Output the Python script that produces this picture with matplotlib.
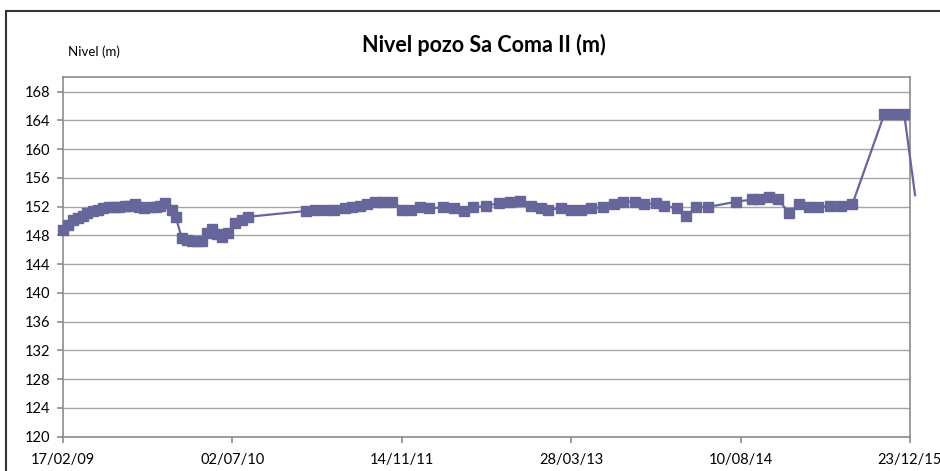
import matplotlib
matplotlib.use("Agg")
import matplotlib.pyplot as plt
from matplotlib.patches import Rectangle
import datetime as dt

# ---- data ----
fecha_inicio = dt.date(2009, 2, 17)
# days since 17/02/09 for each measurement
dias = [0, 17, 29, 46, 61, 73, 88, 103, 118, 138, 154, 167, 184, 197, 213, 226,
        241, 258, 275, 287, 302, 322, 334, 351, 366, 381, 395, 410, 425, 440, 454,
        469, 487, 507, 528, 548,
        717, 744, 777, 801, 833, 855, 878, 899, 922, 946, 971, 1000, 1028, 1053,
        1080, 1121, 1156, 1185, 1212, 1249, 1288, 1320, 1348, 1382, 1410, 1433,
        1471, 1500, 1529, 1560, 1593, 1627, 1653, 1688, 1716, 1751, 1773, 1812,
        1840, 1868, 1903, 1988, 2035, 2053, 2085, 2112, 2143, 2173, 2203, 2228,
        2264, 2297, 2330, 2424, 2453, 2483]
nivel = [148.8, 149.4, 150.1, 150.4, 150.7, 151.1, 151.4, 151.6, 151.8, 151.9, 151.9,
         152.0, 152.1, 152.1, 152.4, 152.0, 151.8, 151.9, 152.0, 152.1, 152.5, 151.5,
         150.5, 147.7, 147.4, 147.2, 147.2, 147.2, 148.3, 148.9, 148.2, 147.8, 148.4,
         149.7, 150.1, 150.6,
         151.4, 151.6, 151.6, 151.6, 151.8, 151.95, 152.1, 152.4, 152.6, 152.7, 152.7,
         151.5, 151.6, 151.9, 151.75, 151.9, 151.8, 151.4, 151.9, 152.1, 152.5, 152.65,
         152.8, 152.1, 151.8, 151.6, 151.75, 151.6, 151.6, 151.8, 151.9, 152.4, 152.7,
         152.7, 152.35, 152.45, 152.1, 151.8, 150.7, 151.95, 151.95, 152.7, 153.0,
         153.0, 153.3, 153.0, 151.1, 152.35, 151.9, 151.9, 152.1, 152.1, 152.35,
         164.85, 164.85, 164.85]
# line continues past the right edge of the plot
dia_siguiente = 2515
nivel_siguiente = 153.6

x_ticks_labels = ["17/02/09", "02/07/10", "14/11/11", "28/03/13", "10/08/14", "23/12/15"]
y_ticks = list(range(120, 169, 4))

titulo = "Nivel pozo Sa Coma II (m)"
ylabel = "Nivel (m)"

# ---- plot ----
plt.rcParams['font.family'] = ['Lato', 'DejaVu Sans']
fig = plt.figure(figsize=(9.4, 4.71), dpi=100)
ax = fig.add_axes([62.7/940, 1-436.7/471, (910-62.7)/940, (436.7-77.3)/471])

fechas = [fecha_inicio + dt.timedelta(days=d) for d in dias]
fecha_sig = fecha_inicio + dt.timedelta(days=dia_siguiente)
col = '#66669a'
ax.plot(fechas + [fecha_sig], nivel + [nivel_siguiente], color=col, lw=1.6,
        clip_on=False, zorder=3)
ax.plot(fechas, nivel, ls='none', marker='s', ms=6.8, color=col, mec=col,
        clip_on=False, zorder=4)

tick_dates = [dt.datetime.strptime(s, "%d/%m/%y").date() for s in x_ticks_labels]
ax.set_xlim(tick_dates[0], tick_dates[-1])
ax.set_xticks(tick_dates)
ax.set_xticklabels(x_ticks_labels)
ax.set_ylim(120, 170)
ax.set_yticks(y_ticks)
ax.set_yticklabels([str(v) for v in y_ticks])

ax.grid(axis='y', color='#a6a6a6', lw=1.0, zorder=0)
for s in ax.spines.values():
    s.set_color('#8c8c8c')
    s.set_linewidth(1.2)
ax.tick_params(axis='both', colors='#8c8c8c', labelcolor='black', labelsize=10.5,
               direction='out', length=4, width=1.2)
ax.tick_params(axis='y', pad=5)
ax.tick_params(axis='x', pad=8)

fig.text(483.5/940, 1-45/471, titulo, ha='center', va='center', fontsize=15.5,
         fontweight='bold')
fig.text(68/940, 1-52/471, ylabel, ha='left', va='center', fontsize=9.5)

fig.patches.append(Rectangle((6/940, -0.1), 1.2, 1-10.7/471+0.1, transform=fig.transFigure,
                             fill=False, edgecolor='#333333', lw=1.5))

fig.savefig("out.png", dpi=100)
